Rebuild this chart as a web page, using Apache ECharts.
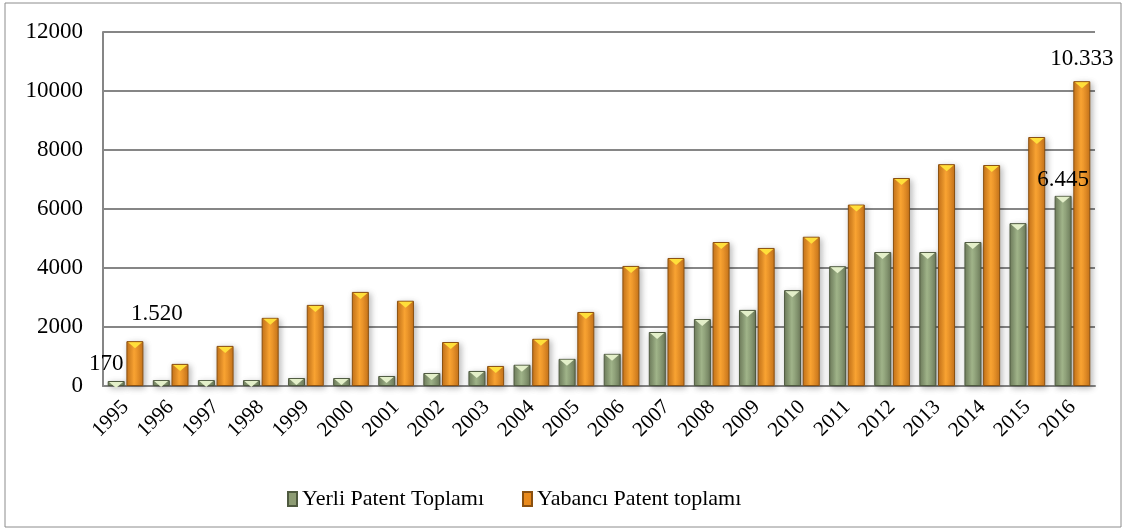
<!DOCTYPE html>
<html>
<head>
<meta charset="utf-8">
<script src="https://cdn.jsdelivr.net/npm/echarts@6/dist/echarts.min.js"></script>
<style>
html, body { margin: 0; padding: 0; background: #fff; }
#main { width: 1124px; height: 531px; }
</style>
</head>
<body>
<div id="main"></div>
<script>
var years = ['1995','1996','1997','1998','1999','2000','2001','2002','2003','2004','2005',
             '2006','2007','2008','2009','2010','2011','2012','2013','2014','2015','2016'];
var yerli = [170, 200, 200, 200, 270, 270, 340, 440, 510, 720, 920,
             1090, 1830, 2270, 2580, 3250, 4060, 4540, 4540, 4880, 5520, 6445];
var yabanci = [1520, 750, 1360, 2310, 2750, 3190, 2890, 1490, 680, 1600, 2510,
               4070, 4340, 4880, 4680, 5060, 6150, 7050, 7520, 7490, 8440, 10333];
var yTicks = [0, 2000, 4000, 6000, 8000, 10000, 12000];

var serif = 'Liberation Serif';

function fmt(v) {
    return String(v).replace(/\B(?=(\d{3})+(?!\d))/g, '.');
}

function ext(a, b) {
    var o = {};
    for (var k in a) o[k] = a[k];
    for (var k2 in b) o[k2] = b[k2];
    return o;
}

function grad(edge, mid) {
    return new echarts.graphic.LinearGradient(0, 0, 1, 0, [
        { offset: 0, color: edge },
        { offset: 0.45, color: mid },
        { offset: 1, color: edge }
    ]);
}

// only first and last bars carry labels
function labelled(arr, cfg) {
    var out = [];
    for (var i = 0; i < arr.length; i++) {
        var item = { value: arr[i] };
        if (cfg[i]) item.label = cfg[i];
        out.push(item);
    }
    return out;
}

var lblStyle = { show: true, color: '#000', fontFamily: serif, fontSize: 23,
                 formatter: function (p) { return fmt(p.value); } };

var yerliData = labelled(yerli, {
    0: ext(lblStyle, { position: 'top', distance: 6, offset: [-10, 0] }),
    21: ext(lblStyle, { position: 'top', distance: 4 })
});
var yabanciData = labelled(yabanci, {
    0: ext(lblStyle, { position: 'top', distance: 16, offset: [22, 0] }),
    21: ext(lblStyle, { position: 'top', distance: 11 })
});

var barShadow = {
    shadowColor: 'rgba(0,0,0,0.28)',
    shadowBlur: 6,
    shadowOffsetX: 2,
    shadowOffsetY: 2
};

var capPath = 'path://M0,0 L16,0 L8,7 Z';

function capSeries(name, data, dx, color) {
    return {
        name: name,
        type: 'pictorialBar',
        barWidth: 17,
        barGap: '-100%',
        symbol: capPath,
        symbolSize: [14, 6],
        symbolPosition: 'end',
        symbolOffset: [dx, 1],
        z: 5,
        silent: true,
        itemStyle: { color: color },
        data: data
    };
}

var option = {
    animation: false,
    backgroundColor: '#fff',
    graphic: [{
        type: 'rect',
        shape: { x: 5, y: 3, width: 1116, height: 524 },
        style: { fill: 'none', stroke: '#8c8c8c', lineWidth: 1 },
        silent: true
    }],
    grid: { left: 103, right: 29, top: 32, bottom: 145 },
    legend: {
        top: 483,
        left: 282,
        itemWidth: 9,
        itemHeight: 14,
        itemGap: 38,
        textStyle: { fontFamily: serif, fontSize: 22, color: '#000' },
        data: [
            { name: 'Yerli Patent Toplamı', icon: 'rect', itemStyle: { color: '#8d9c74' } },
            { name: 'Yabancı Patent toplamı', icon: 'rect', itemStyle: { color: '#e98a1c' } }
        ]
    },
    xAxis: {
        type: 'category',
        data: years,
        axisLine: { lineStyle: { color: '#868686', width: 2 } },
        axisTick: { show: false },
        axisLabel: { rotate: 45, color: '#000', fontFamily: serif, fontSize: 21, margin: 18 }
    },
    yAxis: {
        type: 'value',
        min: yTicks[0],
        max: yTicks[yTicks.length - 1],
        interval: 2000,
        axisLine: { show: true, lineStyle: { color: '#868686', width: 2 } },
        axisTick: { show: false },
        splitLine: { lineStyle: { color: '#868686', width: 2 } },
        axisLabel: { color: '#000', fontFamily: serif, fontSize: 23, margin: 20,
                     formatter: function (v) { return String(v); } }
    },
    series: [{
        name: 'Yerli Patent Toplamı',
        type: 'bar',
        barWidth: 17,
        barGap: '10%',
        data: yerliData,
        itemStyle: ext(barShadow, {
            color: grad('#6f7d5c', '#a2b68b'),
            borderColor: '#4f5a40',
            borderWidth: 1
        })
    }, {
        name: 'Yabancı Patent toplamı',
        type: 'bar',
        barWidth: 17,
        data: yabanciData,
        itemStyle: ext(barShadow, {
            color: grad('#c8741a', '#fba533'),
            borderColor: '#8a5010',
            borderWidth: 1
        })
    },
    // bevel caps on top of each bar
    capSeries('capYerli', yerli, -9.5, '#e3efc9'),
    capSeries('capYabanci', yabanci, 9.5, '#ffdf3a')]
};

echarts.init(document.getElementById('main')).setOption(option);
</script>
</body>
</html>
